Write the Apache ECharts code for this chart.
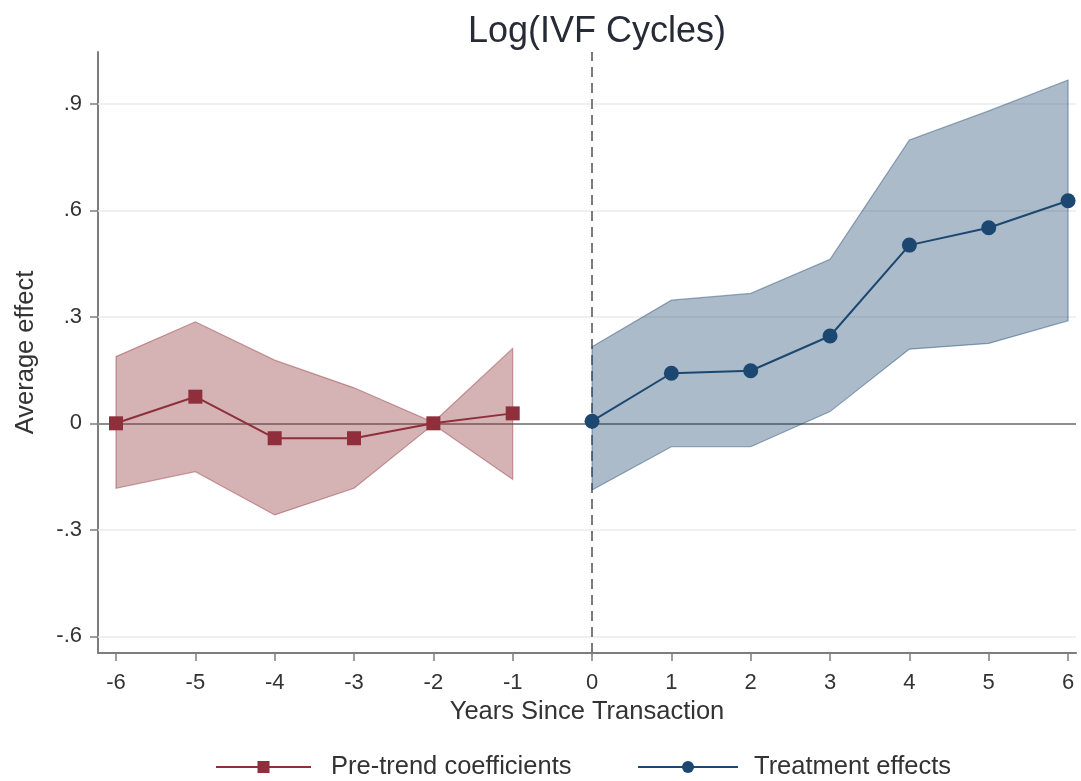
<!DOCTYPE html>
<html>
<head>
<meta charset="utf-8">
<title>Log(IVF Cycles)</title>
<script src="https://cdn.jsdelivr.net/npm/echarts@6/dist/echarts.min.js"></script>
<style>
  html, body { margin: 0; padding: 0; background: #ffffff; }
  #chart { width: 1081px; height: 781px; }
</style>
</head>
<body>
<div id="chart"></div>
<script>
// Event-study estimates: years relative to the transaction
const xTicks = [-6, -5, -4, -3, -2, -1, 0, 1, 2, 3, 4, 5, 6];
const yTickValues = [-0.6, -0.3, 0, 0.3, 0.6, 0.9];
const yTickLabels = ['-.6', '-.3', '0', '.3', '.6', '.9'];

// Pre-period coefficients with 95% confidence bounds
const preYears = [-6, -5, -4, -3, -2, -1];
const preCoef  = [0.000, 0.075, -0.042, -0.042, 0.000, 0.028];
const preUpper = [0.188, 0.286, 0.178, 0.100, 0.003, 0.211];
const preLower = [-0.183, -0.136, -0.258, -0.183, -0.003, -0.158];

// Post-period treatment effects with 95% confidence bounds
const postYears = [0, 1, 2, 3, 4, 5, 6];
const postCoef  = [0.006, 0.141, 0.148, 0.246, 0.502, 0.551, 0.627];
const postUpper = [0.216, 0.347, 0.366, 0.462, 0.798, 0.880, 0.967];
const postLower = [-0.188, -0.066, -0.066, 0.033, 0.209, 0.225, 0.289];

const RED = '#8f2f3b';
const BLUE = '#1c4770';
const FONT = "'Liberation Sans', Arial, Helvetica, sans-serif";

function zip(xs, ys) { return xs.map((x, i) => [x, ys[i]]); }

// Shaded confidence band: upper bound left→right, lower bound right→left
function bandSeries(name, xs, lo, hi, fill, stroke) {
  return {
    name: name,
    type: 'custom',
    z: 2,
    silent: true,
    data: xs.map((x, i) => [x, lo[i], hi[i]]),
    encode: { x: 0, y: [1, 2] },
    renderItem: function (params, api) {
      if (params.dataIndex !== 0) return null;
      const pts = [];
      for (let i = 0; i < xs.length; i++) pts.push(api.coord([xs[i], hi[i]]));
      for (let i = xs.length - 1; i >= 0; i--) pts.push(api.coord([xs[i], lo[i]]));
      return {
        type: 'polygon',
        shape: { points: pts },
        style: { fill: fill, stroke: stroke, lineWidth: 1.2 }
      };
    }
  };
}

const chart = echarts.init(document.getElementById('chart'), null, { renderer: 'canvas' });

const axisGray = '#7d7d7d';
const textGray = '#333333';

chart.setOption({
  backgroundColor: '#ffffff',
  animation: false,
  textStyle: { fontFamily: FONT },
  title: {
    text: 'Log(IVF Cycles)',
    left: 592,
    top: 9,
    textAlign: 'center',
    textStyle: { fontFamily: FONT, fontSize: 36, fontWeight: 'normal', color: '#262b36' }
  },
  grid: { left: 98, right: 5, top: 52, bottom: 128, containLabel: false, outerBoundsMode: 'none' },
  legend: [
    {
      data: ['Pre-trend coefficients'],
      left: 215, top: 754, padding: 0,
      itemWidth: 95, itemHeight: 15,
      textStyle: { fontFamily: FONT, fontSize: 25.5, color: textGray, padding: [0, 0, 0, 15] }
    },
    {
      data: ['Treatment effects'],
      left: 637, top: 754, padding: 0,
      itemWidth: 100, itemHeight: 15,
      textStyle: { fontFamily: FONT, fontSize: 25.5, color: textGray, padding: [0, 0, 0, 11] }
    }
  ],
  xAxis: {
    type: 'value',
    min: -6.227,
    max: 6.10,
    name: 'Years Since Transaction',
    nameLocation: 'middle',
    nameGap: 46,
    nameTextStyle: { fontFamily: FONT, fontSize: 25.5, color: textGray },
    axisLine: { show: true, onZero: false, lineStyle: { color: axisGray, width: 2 } },
    axisTick: { show: true, length: 8, customValues: xTicks, lineStyle: { color: axisGray, width: 1.5 } },
    axisLabel: {
      customValues: xTicks,
      margin: 19,
      fontFamily: FONT, fontSize: 22, color: textGray,
      formatter: v => String(v)
    },
    splitLine: { show: false }
  },
  yAxis: {
    type: 'value',
    min: -0.647,
    max: 1.046,
    name: 'Average effect',
    nameLocation: 'middle',
    nameGap: 59,
    nameRotate: 90,
    nameTextStyle: { fontFamily: FONT, fontSize: 25.5, color: textGray },
    axisLine: { show: true, onZero: false, lineStyle: { color: axisGray, width: 2 } },
    axisTick: { show: true, length: 8, customValues: yTickValues, lineStyle: { color: axisGray, width: 1.5 } },
    axisLabel: {
      customValues: yTickValues,
      margin: 16,
      fontFamily: FONT, fontSize: 22, color: textGray,
      formatter: v => {
        const i = yTickValues.findIndex(t => Math.abs(t - v) < 1e-9);
        return i >= 0 ? yTickLabels[i] : '';
      }
    },
    splitLine: { show: false }
  },
  series: [
    {
      // horizontal gridlines, zero reference line and the vertical event line
      name: 'reference',
      type: 'line',
      z: 1,
      silent: true,
      data: [],
      markLine: {
        z: 1,
        silent: true,
        symbol: 'none',
        label: { show: false },
        animation: false,
        data: yTickValues.filter(v => v !== 0).map(v => ({
          yAxis: v, lineStyle: { color: '#ebebeb', width: 1.5, type: 'solid' }
        })).concat([
          { yAxis: 0, lineStyle: { color: '#8e8e8e', width: 2, type: 'solid' } },
          { xAxis: 0, lineStyle: { color: '#7a7a7a', width: 2, type: [10, 6] } }
        ])
      }
    },
    bandSeries('preBand', preYears, preLower, preUpper, 'rgba(144,53,59,0.38)', 'rgba(144,53,59,0.45)'),
    bandSeries('postBand', postYears, postLower, postUpper, 'rgba(28,71,112,0.37)', 'rgba(28,71,112,0.45)'),
    {
      name: 'Pre-trend coefficients',
      type: 'line',
      z: 3,
      data: zip(preYears, preCoef),
      symbol: 'rect',
      symbolSize: 14,
      lineStyle: { color: RED, width: 2 },
      itemStyle: { color: RED },
      color: RED
    },
    {
      name: 'Treatment effects',
      type: 'line',
      z: 3,
      data: zip(postYears, postCoef),
      symbol: 'circle',
      symbolSize: 15,
      lineStyle: { color: BLUE, width: 2 },
      itemStyle: { color: BLUE },
      color: BLUE
    }
  ]
});
</script>
</body>
</html>
